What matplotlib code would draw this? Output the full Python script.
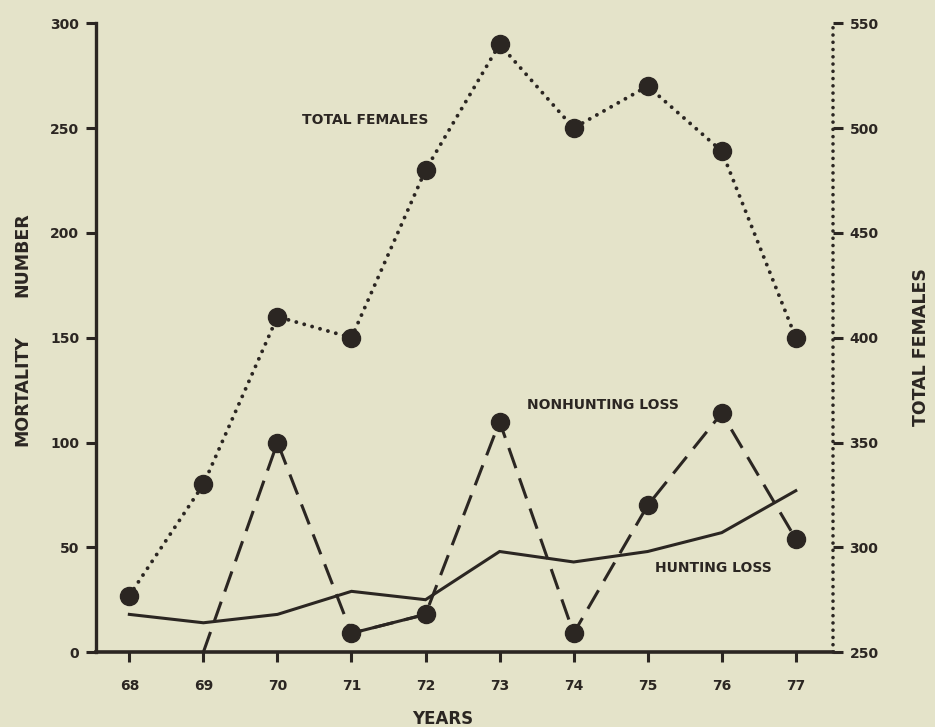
import matplotlib.pyplot as plt

plt.rcParams['font.family'] = ['DejaVu Sans']
plt.rcParams['font.weight'] = 'bold'

# data
years = [68, 69, 70, 71, 72, 73, 74, 75, 76, 77]
total_females = [277, 330, 410, 400, 480, 540, 500, 520, 489, 400]
hunting_loss = [18, 14, 18, 29, 25, 48, 43, 48, 57, 77]
nonhunt_years = [69, 70, 71, 72, 73, 74, 75, 76, 77]
nonhunting_loss = [0, 100, 9, 18, 110, 9, 70, 114, 54]

ink = '#2b2622'
paper = '#e4e3c9'

fig = plt.figure(figsize=(9.35, 7.27), dpi=100, facecolor=paper)
ax1 = fig.add_axes([0.1027, 0.103, 0.788, 0.865])
ax1.set_facecolor(paper)
ax2 = ax1.twinx()

# hunting loss - solid
ax1.plot(years, hunting_loss, color=ink, lw=2.2, solid_joinstyle='miter')

# nonhunting loss - dashed, one solid stretch 71-72
ax1.plot(nonhunt_years, nonhunting_loss, color=ink, lw=2.2, dashes=(7, 3.5))
ax1.plot(nonhunt_years[2:4], nonhunting_loss[2:4], color=ink, lw=2.2)
ax1.plot(nonhunt_years[1:], nonhunting_loss[1:], 'o', color=ink, ms=13)

# total females - dotted, on right axis
ax2.plot(years, total_females, color=ink, lw=2.8, dashes=(0.01, 2.1),
         dash_capstyle='round')
ax2.plot(years, total_females, 'o', color=ink, ms=13)

ax1.set_xlim(67.55, 77.5)
ax1.set_ylim(0, 300)
ax2.set_ylim(250, 550)

ax1.set_xticks(years)
ax1.set_xticklabels([str(y) for y in years])
ax1.set_yticks(range(0, 301, 50))
ax2.set_yticks(range(250, 551, 50))

for a in (ax1, ax2):
    a.spines['top'].set_visible(False)
    a.tick_params(direction='out', length=7, width=2.2, colors=ink,
                  labelsize=10, pad=5)
ax2.spines['left'].set_visible(False)
ax2.spines['bottom'].set_visible(False)
ax1.spines['right'].set_visible(False)
ax1.spines['left'].set_linewidth(2.4)
ax1.spines['bottom'].set_linewidth(2.6)
ax1.spines['left'].set_color(ink)
ax1.spines['bottom'].set_color(ink)
ax2.spines['right'].set_color(ink)
ax2.spines['right'].set_linewidth(2.6)
ax2.spines['right'].set_linestyle((0, (0.01, 2.0)))
ax2.spines['right'].set_capstyle('round')
ax1.tick_params(axis='x', pad=12)

ax1.text(70.33, 254, 'TOTAL FEMALES', fontsize=10, color=ink, va='center')
ax1.text(73.37, 118, 'NONHUNTING LOSS', fontsize=10, color=ink, va='center')
ax1.text(75.1, 40, 'HUNTING LOSS', fontsize=10, color=ink, va='center')

fig.text(443 / 935, 1 - 719 / 727, 'YEARS', fontsize=12, color=ink,
         ha='center', va='center')
fig.text(22 / 935, 1 - 391 / 727, 'MORTALITY', fontsize=12.5, color=ink,
         rotation=90, ha='center', va='center')
fig.text(22 / 935, 1 - 255 / 727, 'NUMBER', fontsize=12.5, color=ink,
         rotation=90, ha='center', va='center')
fig.text(921 / 935, 1 - 347 / 727, 'TOTAL FEMALES', fontsize=12.5, color=ink,
         rotation=90, ha='center', va='center')

fig.savefig('out.png', dpi=100, facecolor=paper)
